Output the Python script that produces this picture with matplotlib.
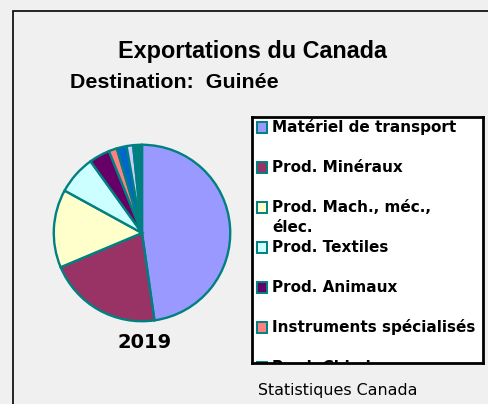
import matplotlib.pyplot as plt
from matplotlib.patches import Rectangle

# export shares (%), clockwise from 12 o'clock
categories = ["Matériel de transport", "Prod. Minéraux", "Prod. Mach., méc.,\nélec.",
              "Prod. Textiles", "Prod. Animaux", "Instruments spécialisés",
              "Prod. Chimiques", "Autres 1", "Autres 2"]
shares = [47.7, 20.9, 14.3, 7.1, 3.8, 1.5, 1.8, 1.2, 1.6]
colors = ["#9999ff", "#993366", "#ffffcc", "#ccffff", "#660066",
          "#ff8080", "#0066cc", "#ccccff", "#008080"]
legend_colors = ["#9999ff", "#993366", "#ffffcc", "#ccffff", "#660066",
                 "#ff8080", "#008080"]
year = "2019"

W, H = 489, 404
bg = "#f0f0f0"
teal = "#008080"

fig = plt.figure(figsize=(W / 100, H / 100), dpi=100, facecolor=bg)

def fx(px):
    return px / W

def fy(py):
    return 1 - py / H

# outer frame (only left and top edges are visible)
fig.add_artist(Rectangle((fx(13), -0.2), 1.5, fy(11) + 0.2, transform=fig.transFigure,
                         facecolor="none", edgecolor="black", linewidth=1.2))

fig.text(fx(252), fy(58), "Exportations du Canada", ha="center", va="baseline",
         fontsize=16.8, fontweight="bold", family="Liberation Sans")
fig.text(fx(70), fy(88), "Destination:  Guinée", ha="left", va="baseline",
         fontsize=15.4, fontweight="bold", family="Liberation Sans")

# pie
cx, cy, r = 142, 233, 90
ax = fig.add_axes([fx(cx - r), fy(cy + r), (2 * r) / W, (2 * r) / H])
ax.pie(shares, colors=colors, startangle=90, counterclock=False,
       wedgeprops=dict(edgecolor=teal, linewidth=1.7))
ax.set_aspect("auto")
ax.set_xlim(-1.02, 1.02)
ax.set_ylim(-1.02, 1.02)
ax.axis("off")

fig.text(fx(145), fy(343), year, ha="center", va="center",
         fontsize=14, fontweight="bold", family="DejaVu Sans")

# legend box (clipped at the bottom like the original)
lx0, lx1, ly0, ly1 = 252, 483, 117, 363
lax = fig.add_axes([fx(lx0), fy(ly1), (lx1 - lx0) / W, (ly1 - ly0) / H])
lax.set_xlim(lx0, lx1)
lax.set_ylim(ly1, ly0)
lax.set_xticks([])
lax.set_yticks([])
lax.set_facecolor("white")
for s in lax.spines.values():
    s.set_linewidth(2)
    s.set_color("black")

for i, (lab, col) in enumerate(zip(categories[:7], legend_colors)):
    yc = 127.5 + 40 * i
    lax.add_patch(Rectangle((257, yc - 5.5), 10, 11, facecolor=col, edgecolor=teal,
                            linewidth=1.4, clip_on=True))
    for k, line in enumerate(lab.split("\n")):
        lax.text(272, yc + 20 * k, line, ha="left", va="center", fontsize=11,
                 fontweight="bold", family="DejaVu Sans", clip_on=True)

fig.text(fx(258), fy(395), "Statistiques Canada", ha="left", va="baseline",
         fontsize=11.4, family="DejaVu Sans")

fig.savefig("out.png", dpi=100, facecolor=bg)
